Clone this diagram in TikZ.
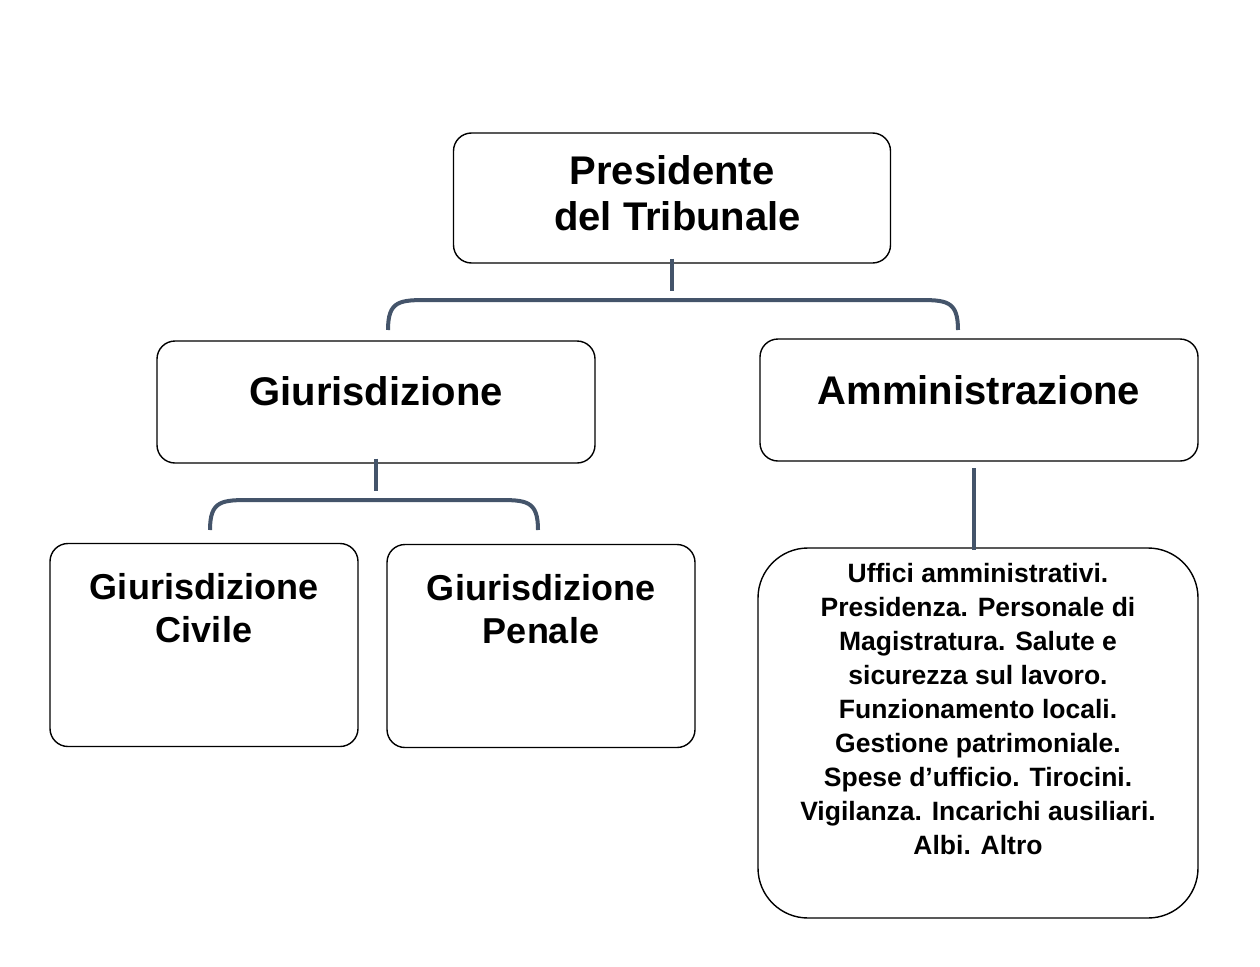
\documentclass[tikz,border=0pt]{standalone}
\usepackage{fontspec}
\setmainfont{Liberation Sans}
\usetikzlibrary{positioning}

\tikzset{
  box/.style={draw,line width=1.4pt,rounded corners=18pt,inner sep=0pt},
  boxtxt/.style={font=\bfseries\fontsize{40}{46}\selectfont,align=center},
  smalltxt/.style={font=\bfseries\fontsize{26.5}{34}\selectfont,align=center},
  link/.style={draw=black!25!blue!20!gray!95!black,color={rgb,255:red,68;green,84;blue,106},line width=4pt}
}

\begin{document}
\begin{tikzpicture}[x=1pt,y=-1pt]
\useasboundingbox (0,0) rectangle (1260,966);
% boxes
\node[box,minimum width=437pt,minimum height=130pt] (pres) at (672,198) {};
\node[boxtxt] (presT) at (672,193) {Presidente\\\ del Tribunale};
\node[box,minimum width=438pt,minimum height=122pt] (giur) at (376,402) {};
\node[boxtxt] (giurT) at (376,391) {Giurisdizione};
\node[box,minimum width=438pt,minimum height=122pt] (amm) at (979,400) {};
\node[boxtxt] (ammT) at (979,390) {Amministrazione};
\node[box,minimum width=308pt,minimum height=203pt] (civ) at (204,645) {};
\node[boxtxt,font=\bfseries\fontsize{36}{43}\selectfont,anchor=north] (civT) at (204,570) {Giurisdizione\\Civile};
\node[box,minimum width=308pt,minimum height=203pt] (pen) at (541,646) {};
\node[boxtxt,font=\bfseries\fontsize{36}{43}\selectfont,anchor=north] (penT) at (541,571) {Giurisdizione\\Penale};
\node[box,rounded corners=50pt,minimum width=440pt,minimum height=370pt] (uff) at (978,733) {};
\node[smalltxt,anchor=north] (uffT) at (978,560) {Uffici amministrativi.\\Presidenza. Personale di\\Magistratura. Salute e\\sicurezza sul lavoro.\\Funzionamento locali.\\Gestione patrimoniale.\\Spese d’ufficio. Tirocini.\\Vigilanza. Incarichi ausiliari.\\Albi. Altro};
% bracket ends
\coordinate (b1) at (388,330);
\coordinate (b2) at (958,330);
\coordinate (c1) at (210,530);
\coordinate (c2) at (538,530);
% connectors
\draw[link] ([yshift=5pt]pres.south) -- ++(0,32);
\draw[link] (b1) .. controls (388,300) and (400,300) .. (430,300) -- (916,300) .. controls (946,300) and (958,300) .. (b2);
\draw[link] ([yshift=5pt]giur.south) -- ++(0,32);
\draw[link] (c1) .. controls (210,500) and (222,500) .. (252,500) -- (496,500) .. controls (526,500) and (538,500) .. (c2);
\draw[link] (974,468) -- ([yshift=-3pt]uff.north-|974,0);
\end{tikzpicture}
\end{document}
